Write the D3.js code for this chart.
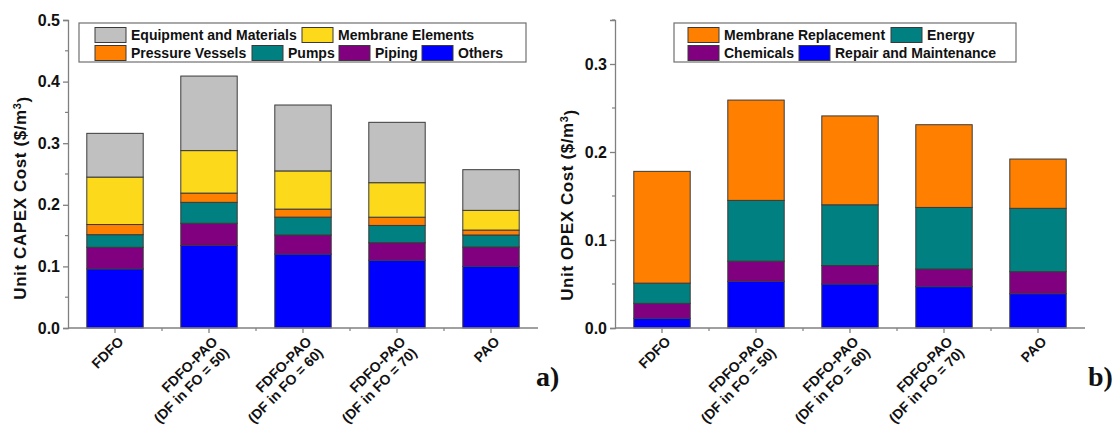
<!DOCTYPE html>
<html>
<head>
<meta charset="utf-8">
<script src="https://cdn.jsdelivr.net/npm/d3@7"></script>
<style>
  html, body { margin: 0; padding: 0; background: #fff; }
  svg { display: block; }
  text { font-family: "Liberation Sans", Arial, sans-serif; font-weight: bold; fill: #111; }
</style>
</head>
<body>
<svg id="chart" width="1120" height="430"></svg>
<script>
// ---------- data ----------
const categoryLines = [
  ["FDFO"],
  ["FDFO-PAO", "(DF in FO = 50)"],
  ["FDFO-PAO", "(DF in FO = 60)"],
  ["FDFO-PAO", "(DF in FO = 70)"],
  ["PAO"]
];
const categories = ["FDFO", "FDFO-PAO 50", "FDFO-PAO 60", "FDFO-PAO 70", "PAO"];

// CAPEX components ($/m3), bottom to top
const capexOthers          = [0.096, 0.134, 0.120, 0.110, 0.100];
const capexPiping          = [0.035, 0.036, 0.031, 0.0285, 0.0315];
const capexPumps           = [0.0205, 0.034, 0.029, 0.028, 0.0195];
const capexPressureVessels = [0.0165, 0.015, 0.013, 0.0134, 0.008];
const capexMembrane        = [0.077, 0.069, 0.062, 0.056, 0.032];
const capexEquipment       = [0.071, 0.121, 0.107, 0.098, 0.066];

// OPEX components ($/m3), bottom to top
const opexRepair    = [0.011, 0.053, 0.050, 0.047, 0.039];
const opexChemicals = [0.017, 0.023, 0.021, 0.020, 0.025];
const opexEnergy    = [0.023, 0.069, 0.069, 0.070, 0.072];
const opexMembrane  = [0.127, 0.114, 0.101, 0.094, 0.056];

const capexTicks = [0.0, 0.1, 0.2, 0.3, 0.4, 0.5];
const opexTicks  = [0.0, 0.1, 0.2, 0.3];

const C = {
  grey: "#c0c0c0", yellow: "#fcda1b", orange: "#ff8000",
  teal: "#008080", purple: "#800080", blue: "#0000ff"
};

const capexSeries = [
  { name: "Others", values: capexOthers, color: C.blue },
  { name: "Piping", values: capexPiping, color: C.purple },
  { name: "Pumps", values: capexPumps, color: C.teal },
  { name: "Pressure Vessels", values: capexPressureVessels, color: C.orange },
  { name: "Membrane Elements", values: capexMembrane, color: C.yellow },
  { name: "Equipment and Materials", values: capexEquipment, color: C.grey }
];
const opexSeries = [
  { name: "Repair and Maintenance", values: opexRepair, color: C.blue },
  { name: "Chemicals", values: opexChemicals, color: C.purple },
  { name: "Energy", values: opexEnergy, color: C.teal },
  { name: "Membrane Replacement", values: opexMembrane, color: C.orange }
];

const svg = d3.select("#chart");

function panel(cfg) {
  const g = svg.append("g");
  const x = d3.scaleBand().domain(categories).range([cfg.x0, cfg.x1])
    .paddingInner(0.4).paddingOuter(0.2);
  const y = d3.scaleLinear().domain([0, cfg.ymax]).range([cfg.yBottom, cfg.yTop]);

  // stacked data
  const rows = categories.map((c, i) => {
    const r = { cat: c };
    cfg.series.forEach(s => r[s.name] = s.values[i]);
    return r;
  });
  const stack = d3.stack().keys(cfg.series.map(s => s.name))(rows);
  stack.forEach((layer, li) => {
    g.append("g").selectAll("rect").data(layer).join("rect")
      .attr("x", d => x(d.data.cat))
      .attr("width", x.bandwidth())
      .attr("y", d => y(d[1]))
      .attr("height", d => y(d[0]) - y(d[1]))
      .attr("fill", cfg.series[li].color)
      .attr("stroke", "#3a3a3a")
      .attr("stroke-width", 1);
  });

  // y axis
  const yAxis = d3.axisLeft(y).tickValues(cfg.ticks).tickFormat(d3.format(".1f"))
    .tickSize(5).tickPadding(3);
  const ya = g.append("g").attr("transform", `translate(${cfg.x0},0)`).call(yAxis);
  ya.select(".domain").attr("stroke", "#808080").attr("stroke-width", 1.3);
  ya.selectAll(".tick line").attr("stroke", "#808080").attr("stroke-width", 1.3);
  ya.selectAll(".tick text").style("font-size", "16px").style("font-weight", "bold")
    .attr("fill", "#111");
  // minor y ticks
  const minor = d3.range(0.05, cfg.ymax + 1e-9, 0.1);
  g.append("g").selectAll("line").data(minor).join("line")
    .attr("x1", cfg.x0 - 3).attr("x2", cfg.x0)
    .attr("y1", d => y(d)).attr("y2", d => y(d))
    .attr("stroke", "#808080").attr("stroke-width", 1.2);

  // x axis
  const xa = g.append("g").attr("transform", `translate(0,${cfg.yBottom})`)
    .call(d3.axisBottom(x).tickSize(5).tickFormat(""));
  xa.select(".domain").attr("stroke", "#808080").attr("stroke-width", 1.3)
    .attr("d", `M${cfg.x0},0H${cfg.x1}`);
  xa.selectAll(".tick line").attr("stroke", "#808080").attr("stroke-width", 1.3);
  // minor x ticks at band boundaries
  const step = x.step();
  const bounds = categories.slice(0, -1).map(c => x(c) + x.bandwidth() / 2 + step / 2);
  g.append("g").selectAll("line").data(bounds).join("line")
    .attr("x1", d => d).attr("x2", d => d)
    .attr("y1", cfg.yBottom).attr("y2", cfg.yBottom + 3)
    .attr("stroke", "#808080").attr("stroke-width", 1.2);

  // x labels rotated, right-aligned lines
  categories.forEach((c, i) => {
    const cx = x(c) + x.bandwidth() / 2;
    const lab = g.append("g")
      .attr("transform", `translate(${cx + 6},${cfg.yBottom + 11}) rotate(-45)`);
    categoryLines[i].forEach((t, k) => lab.append("text")
      .attr("x", 0)
      .attr("y", k * 16)
      .attr("dy", "0.35em")
      .attr("text-anchor", "end")
      .style("font-size", "14px")
      .text(t));
  });

  // axis title
  const t = g.append("text")
    .attr("transform", `translate(${cfg.titleX},${cfg.titleY}) rotate(-90)`)
    .attr("text-anchor", "middle")
    .style("font-size", "17px")
    .style("letter-spacing", "0.6px");
  t.append("tspan").text(cfg.title + " ($/m");
  t.append("tspan").attr("dy", "-0.45em").style("font-size", "11px").text("3");
  t.append("tspan").attr("dy", "0.45em").text(")");

  // legend
  const lg = g.append("g");
  lg.append("rect").attr("x", cfg.legend.x0).attr("y", cfg.legend.y0)
    .attr("width", cfg.legend.x1 - cfg.legend.x0).attr("height", cfg.legend.y1 - cfg.legend.y0)
    .attr("fill", "#fff").attr("stroke", "#707070").attr("stroke-width", 1.2);
  cfg.legend.items.forEach(it => {
    const s = cfg.series.find(d => d.name === it.name);
    lg.append("rect").attr("x", it.x).attr("y", it.y - 7.5).attr("width", 31).attr("height", 15)
      .attr("fill", s.color).attr("stroke", "#3a3a3a").attr("stroke-width", 1);
    lg.append("text").attr("x", it.x + 36).attr("y", it.y).attr("dy", "0.35em")
      .style("font-size", "14px").text(s.name);
  });

  // panel letter
  svg.append("text").attr("x", cfg.letterX).attr("y", 386)
    .style("font-family", "'Liberation Serif', 'Times New Roman', serif")
    .style("font-size", "28px").style("font-weight", "bold")
    .text(cfg.letter);
}

panel({
  series: capexSeries, ymax: 0.5, ticks: capexTicks,
  x0: 68, x1: 538, yBottom: 328, yTop: 20,
  title: "Unit CAPEX Cost", titleX: 26, titleY: 198,
  letter: "a)", letterX: 536,
  legend: {
    x0: 79, x1: 526, y0: 23, y1: 62,
    items: [
      { name: "Equipment and Materials", x: 95, y: 35 },
      { name: "Membrane Elements", x: 302, y: 35 },
      { name: "Pressure Vessels", x: 95, y: 53 },
      { name: "Pumps", x: 252, y: 53 },
      { name: "Piping", x: 339, y: 53 },
      { name: "Others", x: 422, y: 53 }
    ]
  }
});

panel({
  series: opexSeries, ymax: 0.35, ticks: opexTicks,
  x0: 615, x1: 1085, yBottom: 328, yTop: 20,
  title: "Unit OPEX Cost", titleX: 573, titleY: 205,
  letter: "b)", letterX: 1088,
  legend: {
    x0: 674, x1: 1016, y0: 23, y1: 62,
    items: [
      { name: "Membrane Replacement", x: 688, y: 35 },
      { name: "Energy", x: 891, y: 35 },
      { name: "Chemicals", x: 688, y: 53 },
      { name: "Repair and Maintenance", x: 799, y: 53 }
    ]
  }
});
</script>
</body>
</html>
